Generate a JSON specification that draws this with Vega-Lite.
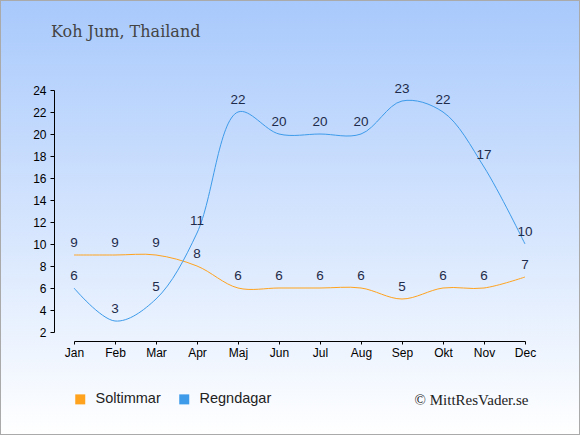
{
  "$schema": "https://vega.github.io/schema/vega-lite/v6.json",
  "width": 580,
  "height": 435,
  "autosize": {"type": "none"},
  "padding": 0,
  "background": "#ffffff",
  "config": {
    "view": {
      "fill": {"gradient": "linear", "x1": 0, "y1": 0, "x2": 0, "y2": 1,
        "stops": [{"offset": 0, "color": "#a8c9fc"}, {"offset": 1, "color": "#ffffff"}]},
      "stroke": "#aaaaaa",
      "strokeWidth": 2
    },
    "axis": {
      "domainColor": "#000000",
      "tickColor": "#000000",
      "labelColor": "#000000",
      "labelFont": "Liberation Sans",
      "labelFontSize": 12,
      "grid": false
    }
  },
  "title": {
    "text": "Koh Jum, Thailand",
    "anchor": "start",
    "frame": "group",
    "orient": "top",
    "offset": 0,
    "baseline": "alphabetic",
    "dx": 51,
    "dy": 53,
    "font": "DejaVu Serif",
    "fontSize": 16,
    "fontWeight": "normal",
    "color": "#444444"
  },
  "data": {
    "values": [
      {"month": "Jan", "serie": "Soltimmar", "value": 9},
      {"month": "Feb", "serie": "Soltimmar", "value": 9},
      {"month": "Mar", "serie": "Soltimmar", "value": 9},
      {"month": "Apr", "serie": "Soltimmar", "value": 8},
      {"month": "Maj", "serie": "Soltimmar", "value": 6},
      {"month": "Jun", "serie": "Soltimmar", "value": 6},
      {"month": "Jul", "serie": "Soltimmar", "value": 6},
      {"month": "Aug", "serie": "Soltimmar", "value": 6},
      {"month": "Sep", "serie": "Soltimmar", "value": 5},
      {"month": "Okt", "serie": "Soltimmar", "value": 6},
      {"month": "Nov", "serie": "Soltimmar", "value": 6},
      {"month": "Dec", "serie": "Soltimmar", "value": 7},
      {"month": "Jan", "serie": "Regndagar", "value": 6},
      {"month": "Feb", "serie": "Regndagar", "value": 3},
      {"month": "Mar", "serie": "Regndagar", "value": 5},
      {"month": "Apr", "serie": "Regndagar", "value": 11},
      {"month": "Maj", "serie": "Regndagar", "value": 22},
      {"month": "Jun", "serie": "Regndagar", "value": 20},
      {"month": "Jul", "serie": "Regndagar", "value": 20},
      {"month": "Aug", "serie": "Regndagar", "value": 20},
      {"month": "Sep", "serie": "Regndagar", "value": 23},
      {"month": "Okt", "serie": "Regndagar", "value": 22},
      {"month": "Nov", "serie": "Regndagar", "value": 17},
      {"month": "Dec", "serie": "Regndagar", "value": 10}
    ]
  },
  "encoding": {
    "x": {
      "field": "month",
      "type": "ordinal",
      "sort": ["Jan","Feb","Mar","Apr","Maj","Jun","Jul","Aug","Sep","Okt","Nov","Dec"],
      "scale": {"type": "point", "range": [74, 525], "padding": 0},
      "axis": {
        "orient": "bottom",
        "offset": -94,
        "labelAngle": 0,
        "tickSize": 3,
        "labelPadding": 3,
        "title": "© MittResVader.se",
        "titleFont": "Liberation Serif",
        "titleFontSize": 15,
        "titleFontWeight": "normal",
        "titleColor": "#222222",
        "titleX": 528,
        "titleY": 63,
        "titleAlign": "right",
        "titleBaseline": "alphabetic"
      }
    },
    "y": {
      "field": "value",
      "type": "quantitative",
      "scale": {"domain": [2, 24], "range": [332, 90], "nice": false, "zero": false},
      "axis": {
        "orient": "left",
        "offset": -54,
        "values": [2,4,6,8,10,12,14,16,18,20,22,24],
        "tickSize": 4,
        "labelPadding": 4,
        "title": null
      }
    }
  },
  "layer": [
    {
      "mark": {"type": "line", "interpolate": "catmull-rom", "strokeWidth": 1},
      "encoding": {
        "color": {
          "field": "serie",
          "type": "nominal",
          "scale": {"domain": ["Soltimmar", "Regndagar"], "range": ["#ffa31f", "#3d9bea"]},
          "legend": {
            "title": null,
            "orient": "none",
            "legendX": 73,
            "legendY": 392,
            "direction": "horizontal",
            "symbolType": "square",
            "symbolSize": 100,
            "labelFont": "Liberation Sans",
            "labelFontSize": 14.5,
            "labelColor": "#222222",
            "labelOffset": 8,
            "columnPadding": 16,
            "encode": {
              "symbols": {
                "update": {
                  "fill": {"scale": "color", "field": "value"},
                  "stroke": {"value": "transparent"},
                  "strokeWidth": {"value": 0}
                }
              }
            }
          }
        }
      }
    },
    {
      "mark": {"type": "text", "dy": -8, "baseline": "alphabetic", "font": "Liberation Sans", "fontSize": 13.5, "color": "#1e2b4a"},
      "encoding": {
        "text": {"field": "value", "type": "quantitative"}
      }
    }
  ]
}
